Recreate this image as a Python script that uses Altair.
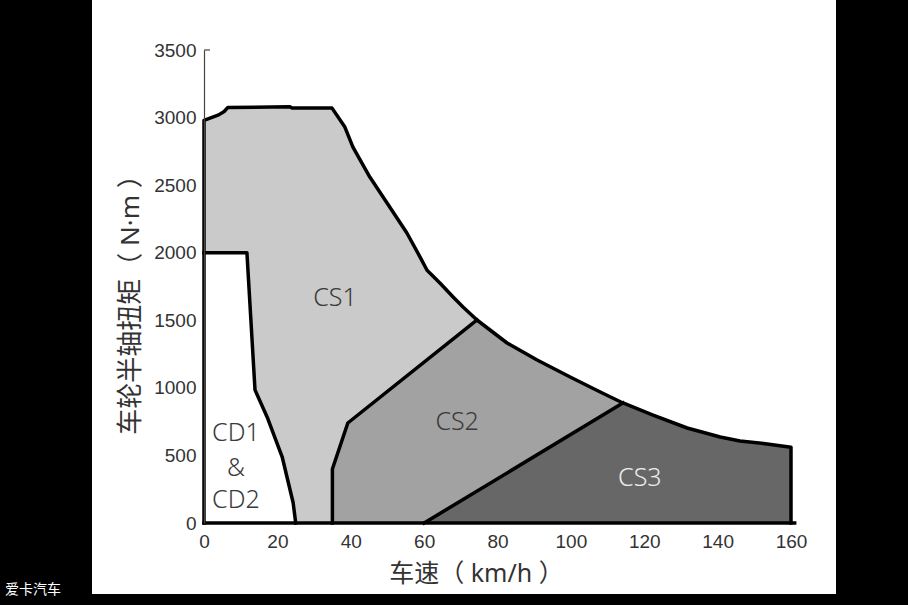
import altair as alt
import pandas as pd

# ---- data ----
# outer torque envelope (km/h, N·m)
env_x = [0, 2, 4, 5.5, 6.5, 23.4, 24, 34.9, 38.4, 40.6, 45.2, 49.9, 55.3, 58.9, 60.8,
         64.3, 67.9, 70.6, 74.4, 82.6, 90.8, 99.8, 108, 114.2, 122.4, 131.7, 140.7,
         146.1, 153.5, 160]
env_y = [2980, 3000, 3020, 3045, 3075, 3080, 3070, 3070, 2930, 2782, 2560, 2368, 2146,
         1968, 1870, 1776, 1672, 1598, 1502, 1332, 1206, 1080, 969, 888, 799, 703, 636,
         607, 585, 560]
# CS1 / CS2 boundary
cs12_x = [35, 35, 39.2, 74.4]
cs12_y = [0, 400, 740, 1502]
# CS2 / CS3 boundary
cs23_x = [60, 114.2]
cs23_y = [0, 888]
# CD1&CD2 boundary
cd_x = [0, 11.7, 13.9, 17.2, 21.3, 24.3, 25]
cd_y = [2000, 2000, 985, 785, 490, 150, 0]
# base line along zero torque
base_x = [0, 161]
base_y = [0, 0]

# region labels
lab_text = ["CS1", "CS2", "CS3", "CD1", "&", "CD2"]
lab_x = [35.7, 69, 118.8, 8.7, 8.7, 8.7]
lab_y = [1665, 747, 333, 666, 407, 170]
lab_col = ["#3a3a3a", "#3a3a3a", "#ececec", "#3a3a3a", "#3a3a3a", "#3a3a3a"]

x_ticks = [0, 20, 40, 60, 80, 100, 120, 140, 160]
y_ticks = [0, 500, 1000, 1500, 2000, 2500, 3000, 3500]

C_CS1 = "#cacaca"
C_CS2 = "#a2a2a2"
C_CS3 = "#676767"

# ---- tables ----
env = pd.DataFrame({"x": env_x, "y": env_y})
cs2_up = pd.DataFrame({
    "x": cs12_x[1:] + [v for v in env_x if v > cs12_x[-1]],
    "y": cs12_y[1:] + [w for v, w in zip(env_x, env_y) if v > cs12_x[-1]],
})
cs3_up = pd.DataFrame({
    "x": cs23_x + [v for v in env_x if v > cs23_x[-1]],
    "y": cs23_y + [w for v, w in zip(env_x, env_y) if v > cs23_x[-1]],
})
cd = pd.DataFrame({"x": cd_x, "y": cd_y})

segs = []
ox = [0] + env_x + [env_x[-1]]
oy = [0] + env_y + [0]
for name, xs_, ys_ in [("outer", ox, oy), ("cs12", cs12_x, cs12_y),
                       ("cs23", cs23_x, cs23_y), ("cd", cd_x, cd_y),
                       ("base", base_x, base_y)]:
    for i, (a, b) in enumerate(zip(xs_, ys_)):
        segs.append({"seg": name, "i": i, "x": a, "y": b})
lines = pd.DataFrame(segs)

labels = pd.DataFrame({"t": lab_text, "x": lab_x, "y": lab_y, "c": lab_col})

xs = alt.Scale(domain=[0, 160], nice=False)
ys = alt.Scale(domain=[0, 3500], nice=False)

LABEL_FONT = "Liberation Sans, Arial, sans-serif"
TITLE_FONT = "Noto Sans, Noto Sans CJK SC, sans-serif"
CJK_FONT = "Noto Sans CJK SC, sans-serif"

x_axis = alt.Axis(values=x_ticks, format="d", title="车速（ km/h ）", labelFont=LABEL_FONT,
                  labelFontSize=19, labelColor="#333333", labelPadding=9, tickSize=0,
                  domain=False, grid=False,
                  titleFont=TITLE_FONT, titleFontSize=25, titleFontWeight="normal",
                  titleColor="#333333", titleX=272, titleY=50, titleBaseline="middle",
                  titleAlign="center", zindex=1, labelFlush=False)
y_axis = alt.Axis(values=y_ticks, format="d", title="车轮半轴扭矩（ N·m ）", labelFont=LABEL_FONT,
                  labelFontSize=19, labelColor="#333333", labelPadding=8, tickSize=0,
                  domain=True, domainColor="#444444", domainWidth=1.2, grid=False,
                  titleFont=TITLE_FONT, titleFontSize=26, titleFontWeight="normal",
                  titleColor="#333333", titleX=-74, titleY=248, titleAngle=270,
                  titleBaseline="middle", titleAlign="center", zindex=1, labelFlush=False)

paper = alt.Chart(pd.DataFrame({"a": [0]})).mark_rect(color="white").encode(
    x=alt.value(-112), x2=alt.value(632), y=alt.value(-50), y2=alt.value(544))

watermark = alt.Chart(pd.DataFrame({"t": ["爱卡汽车"]})).mark_text(
    color="white", fontSize=14, font=CJK_FONT, align="left", baseline="middle").encode(
    text="t:N", x=alt.value(-199), y=alt.value(540))

bx = alt.X("x:Q", scale=xs, axis=x_axis)
by = alt.Y("y:Q", scale=ys, axis=y_axis)

a1 = alt.Chart(env).mark_area(color=C_CS1).encode(x=bx, y=by, y2=alt.datum(0))
a2 = alt.Chart(cs2_up).mark_area(color=C_CS2).encode(x="x:Q", y="y:Q", y2=alt.datum(0))
a3 = alt.Chart(cs3_up).mark_area(color=C_CS3).encode(x="x:Q", y="y:Q", y2=alt.datum(0))
a4 = alt.Chart(cd).mark_area(color="white").encode(x="x:Q", y="y:Q", y2=alt.datum(0))

ln = alt.Chart(lines).mark_line(color="black", strokeWidth=3.5, strokeJoin="round",
                                strokeCap="square").encode(
    x="x:Q", y="y:Q", detail="seg:N", order="i:Q")

tick3500 = alt.Chart(pd.DataFrame({"a": [0]})).mark_rule(color="#444444", strokeWidth=1.2).encode(
    x=alt.value(0), x2=alt.value(6), y=alt.datum(3500))

txt = alt.Chart(labels).mark_text(fontSize=25, font="Noto Sans, sans-serif",
                                  fontWeight=300).encode(
    x="x:Q", y="y:Q", text="t:N", color=alt.Color("c:N", scale=None))

chart = alt.layer(paper, a1, a2, a3, a4, ln, tick3500, txt, watermark).properties(
    width=587, height=473,
    autosize=alt.AutoSizeParams(type="none"),
    padding={"left": 204, "top": 50, "right": 117, "bottom": 82},
    background="black",
).configure_view(stroke=None)

chart.save("out.html", embed_options={"renderer": "svg", "actions": False})
